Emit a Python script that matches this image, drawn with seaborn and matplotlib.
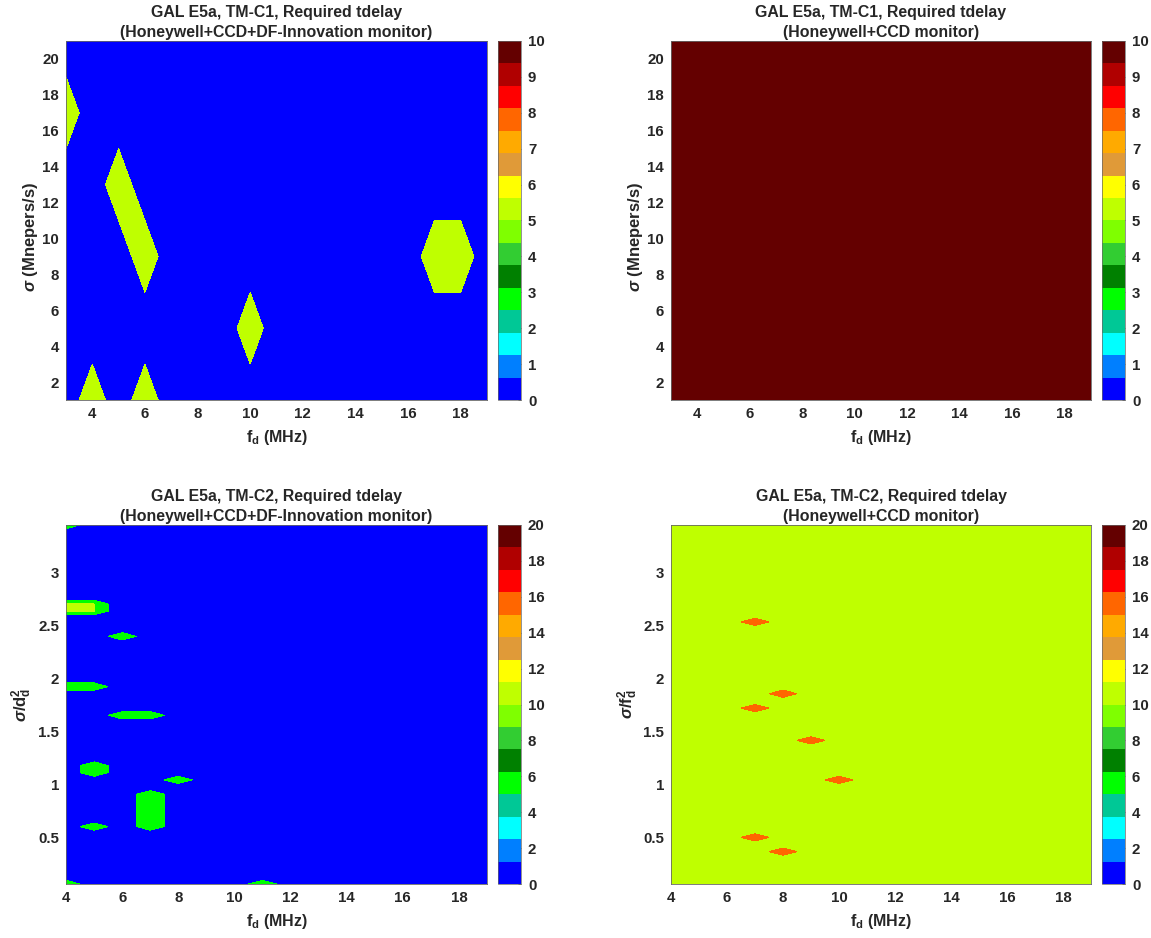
import numpy as np
import matplotlib
matplotlib.use("Agg")
import matplotlib.pyplot as plt
from matplotlib.cm import ScalarMappable
from matplotlib.colors import BoundaryNorm, ListedColormap
import seaborn as sns

# colorbar bands, bottom to top
band_colors = ['#0000ff', '#007fff', '#00ffff', '#00c896', '#00ff00', '#008000',
               '#32cd32', '#7fff00', '#bfff00', '#ffff00', '#e09a38', '#ffaa00',
               '#ff6600', '#ff0000', '#b00000', '#640000']

# grid of the TM-C1 runs
c1_fd = np.arange(3, 19.5, 0.5)
c1_sigma = np.arange(1, 23, 2)
# grid of the TM-C2 runs
c2_fd = np.arange(4, 19.5, 0.5)
c2_ratio = np.linspace(0.06, 3.447, 101)

# cells above the background: fd from/to, sigma from/to, required tdelay
a_fd0 = [3, 4, 6, 5, 5.5, 6, 10, 17]
a_fd1 = [3, 4, 6, 5, 5.5, 6, 10, 18]
a_s0 = [17, 1, 1, 13, 11, 9, 5, 9]
a_s1 = [17, 1, 1, 13, 11, 9, 5, 9]
a_val = [5, 5, 5, 5, 5, 5, 5, 5]

c_fd0 = [4, 4, 11, 4, 6, 4, 6, 5, 8, 7, 5]
c_fd1 = [4, 4, 11, 5, 6, 5, 7, 5, 8, 7, 5]
c_s0 = [3.447, 0.06, 0.06, 2.62, 2.39, 1.937, 1.64, 1.117, 1.038, 0.591, 0.588]
c_s1 = [3.447, 0.06, 0.06, 2.688, 2.39, 1.937, 1.64, 1.185, 1.038, 0.89, 0.588]
c_val = [6, 6, 6, 10, 6, 6, 6, 6, 6, 6, 6]

d_fd = [7, 8, 7, 9, 10, 7, 8]
d_s = [2.54, 1.865, 1.714, 1.416, 1.043, 0.516, 0.368]
d_val = [16, 16, 16, 16, 16, 16, 16]

W, H = 1151, 938
FONT = 'Liberation Sans'
TXT = '#262626'


def build_grid(xs, ys, base, x0, x1, y0, y1, vals):
    z = np.full((len(ys), len(xs)), float(base))
    for xa, xb, ya, yb, v in zip(x0, x1, y0, y1, vals):
        i0, i1 = np.abs(ys - ya).argmin(), np.abs(ys - yb).argmin()
        j0, j1 = np.abs(xs - xa).argmin(), np.abs(xs - xb).argmin()
        z[i0:i1 + 1, j0:j1 + 1] = np.maximum(z[i0:i1 + 1, j0:j1 + 1], v)
    return z


def panel(fig, box, cbox, xs, ys, z, levels, band_ids, title, ylabel, label_xy,
          xticks, yticks, yticklabels, cmax, cticks):
    l, t, r, b = box
    ax = fig.add_axes([l / W, 1 - b / H, (r - l) / W, (b - t) / H])
    cols = [band_colors[i] for i in band_ids]
    ax.contourf(xs, ys, z, levels=levels, colors=cols)
    ax.set_xlim(xs[0], xs[-1])
    ax.set_ylim(ys[0], ys[-1])
    ax.set_xticks(xticks)
    ax.set_yticks(yticks)
    ax.set_yticklabels(yticklabels)
    ax.tick_params(direction='in', length=3, width=0.5, color='#444444', labelcolor=TXT,
                   labelsize=10.8, pad=5)
    for s in ax.spines.values():
        s.set_linewidth(0.6)
        s.set_color('#666666')
    ax.set_title(title, fontsize=11.4, fontweight='bold', color=TXT, pad=3, linespacing=1.38)
    ax.set_xlabel(r'f$_{\mathbf{d}}$ (MHz)', fontsize=11.5, fontweight='bold', color=TXT, labelpad=5)
    ax.set_ylabel(ylabel, fontsize=12, fontweight='bold', color=TXT)
    ax.yaxis.set_label_coords(*label_xy)

    l, t, r, b = cbox
    cax = fig.add_axes([l / W, 1 - b / H, (r - l) / W, (b - t) / H])
    bounds = np.linspace(0, cmax, 17)
    sm = ScalarMappable(norm=BoundaryNorm(bounds, 16), cmap=ListedColormap(band_colors))
    cb = fig.colorbar(sm, cax=cax, ticks=cticks, spacing='proportional')
    cb.ax.tick_params(direction='in', length=2, width=0.5, color='#444444', labelcolor=TXT,
                      labelsize=10.8, pad=5)
    cb.ax.minorticks_off()
    cb.outline.set_linewidth(0.5)
    cb.outline.set_edgecolor('#666666')
    return ax


def main():
    sns.set_theme(style='white')
    plt.rcParams['font.family'] = [FONT, 'DejaVu Sans']
    plt.rcParams['font.weight'] = 'bold'
    plt.rcParams['mathtext.fontset'] = 'custom'
    plt.rcParams['mathtext.rm'] = FONT + ':bold'
    plt.rcParams['mathtext.bf'] = FONT + ':bold'
    plt.rcParams['mathtext.it'] = FONT + ':italic'

    fig = plt.figure(figsize=(W / 100, H / 100), dpi=100)

    title_hcd = '(Honeywell+CCD+DF-Innovation monitor)'
    title_hc = '(Honeywell+CCD monitor)'
    sigma_label = r'$\sigma$ (Mnepers/s)'
    ticks_x = list(range(4, 20, 2))
    c1_y = list(range(2, 22, 2))
    c2_y = [0.5, 1, 1.5, 2, 2.5, 3]
    c2_labels = ['0.5', '1', '1.5', '2', '2.5', '3']
    c10 = list(range(0, 11))
    c20 = list(range(0, 22, 2))

    z_a = build_grid(c1_fd, c1_sigma, 0, a_fd0, a_fd1, a_s0, a_s1, a_val)
    panel(fig, (66, 41, 487, 400), (498, 41, 521, 400), c1_fd, c1_sigma, z_a,
          [-1, 0.01, 6], [0, 8],
          'GAL E5a, TM-C1, Required tdelay\n' + title_hcd, sigma_label, (-0.062, 0.454),
          ticks_x, c1_y, [str(v) for v in c1_y], 10, c10)

    z_b = np.full((len(c1_sigma), len(c1_fd)), 10.0)
    panel(fig, (671, 41, 1091, 400), (1102, 41, 1125, 400), c1_fd, c1_sigma, z_b,
          [9, 11], [15],
          'GAL E5a, TM-C1, Required tdelay\n' + title_hc, sigma_label, (-0.062, 0.454),
          ticks_x, c1_y, [str(v) for v in c1_y], 10, c10)

    z_c = build_grid(c2_fd, c2_ratio, 0, c_fd0, c_fd1, c_s0, c_s1, c_val)
    panel(fig, (66, 525, 487, 884), (498, 525, 521, 884), c2_fd, c2_ratio, z_c,
          [-1, 0.01, 9.99, 11], [0, 4, 8],
          'GAL E5a, TM-C2, Required tdelay\n' + title_hcd,
          r'$\sigma$/d$_{\mathbf{d}}^{\mathbf{2}}$', (-0.075, 0.5),
          ticks_x, c2_y, c2_labels, 20, c20)

    z_d = build_grid(c2_fd, c2_ratio, 10, d_fd, d_fd, d_s, d_s, d_val)
    panel(fig, (671, 525, 1091, 884), (1102, 525, 1125, 884), c2_fd, c2_ratio, z_d,
          [9, 10.01, 17], [8, 12],
          'GAL E5a, TM-C2, Required tdelay\n' + title_hc,
          r'$\sigma$/f$_{\mathbf{d}}^{\mathbf{2}}$', (-0.075, 0.5),
          ticks_x, c2_y, c2_labels, 20, c20)

    fig.savefig('out.png', dpi=100)


if __name__ == "__main__":
    main()
